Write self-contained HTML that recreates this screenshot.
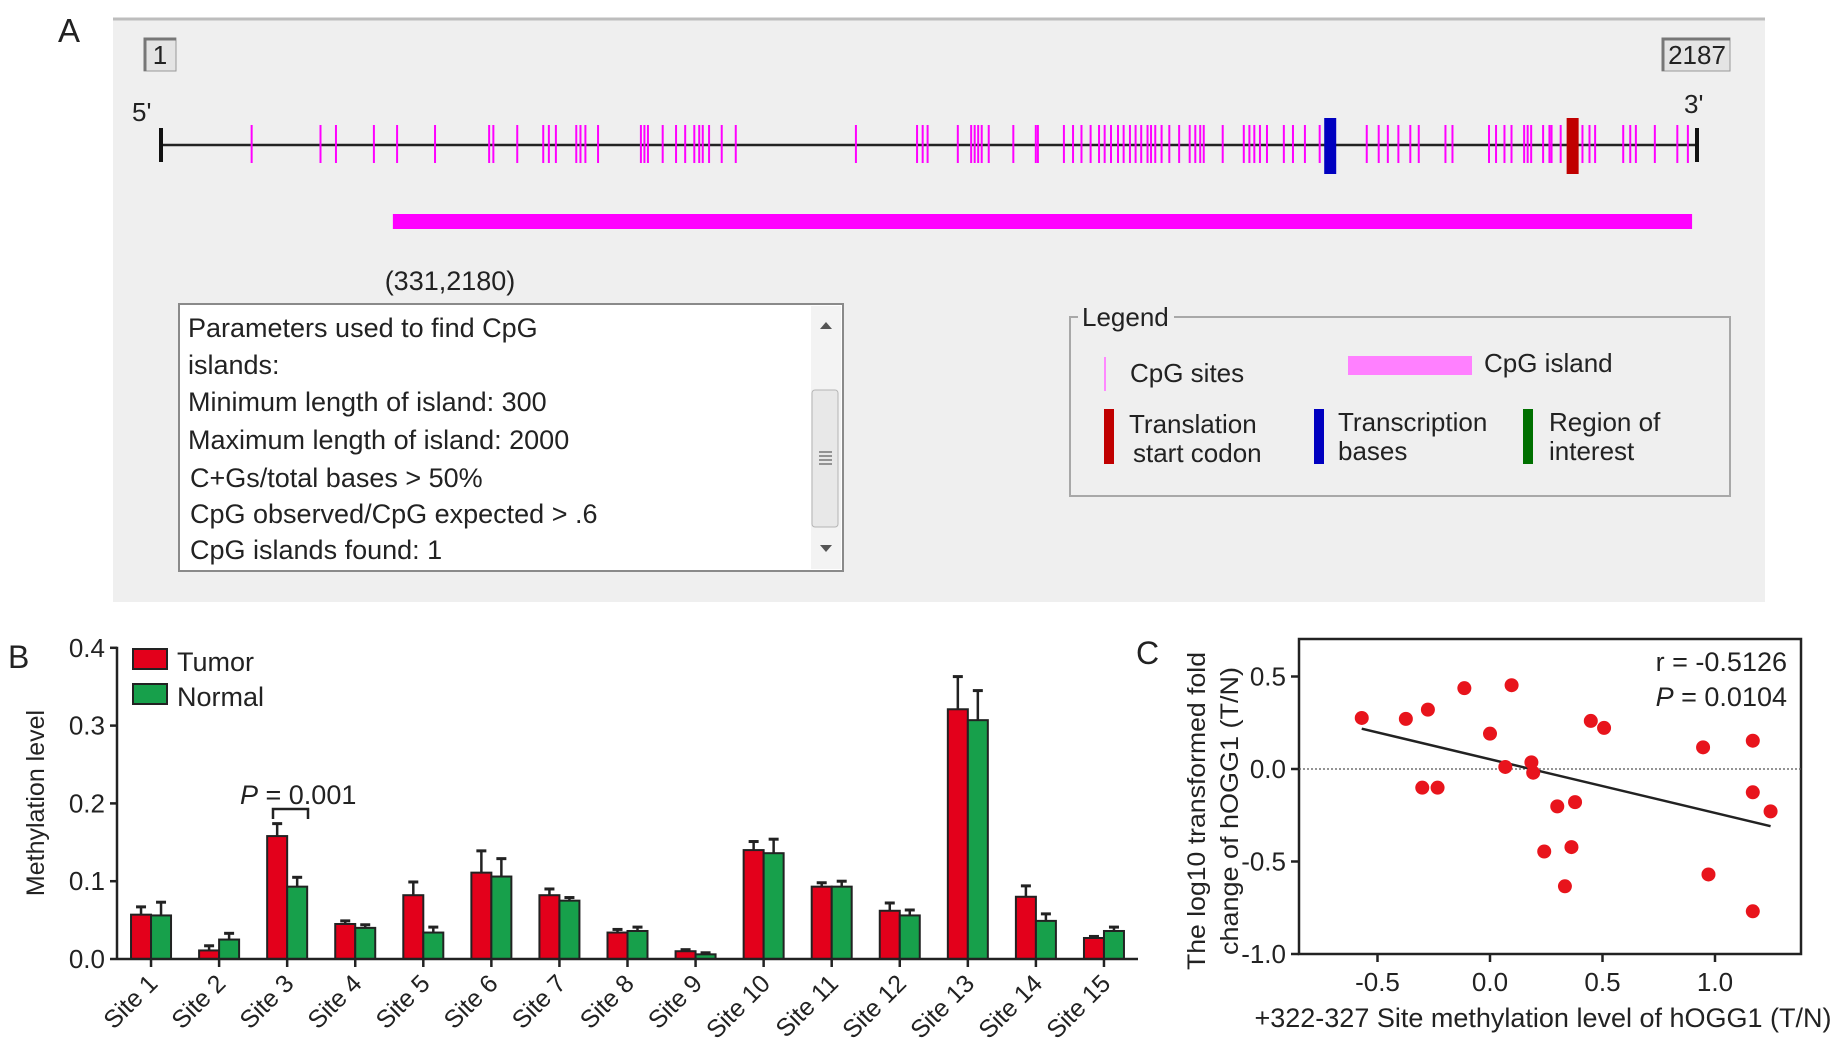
<!DOCTYPE html>
<html><head><meta charset="utf-8"><style>
html,body{margin:0;padding:0;background:#fff;}
svg{display:block;font-family:"Liberation Sans",Arial,sans-serif;}
</style></head><body>
<svg id="fig" width="1843" height="1060" viewBox="0 0 1843 1060" xmlns="http://www.w3.org/2000/svg">
<g id="panelA">
  <rect x="113" y="18" width="1652" height="584" fill="#efefef"/>
  <line x1="113" y1="19" x2="1765" y2="19" stroke="#bdbdbd" stroke-width="3"/>
  <text x="58" y="42" font-size="33" fill="#222">A</text>
  <g>
    <rect x="144" y="38" width="32" height="33" fill="#e4e4e4" stroke="#999" stroke-width="1"/>
    <path d="M145 71 V39 H176" stroke="#777" stroke-width="3" fill="none"/>
    <text x="160" y="64" font-size="26" text-anchor="middle" fill="#222">1</text>
  </g>
  <g>
    <rect x="1662" y="38" width="68" height="33" fill="#e4e4e4" stroke="#999" stroke-width="1"/>
    <path d="M1663 71 V39 H1730" stroke="#777" stroke-width="3" fill="none"/>
    <text x="1697" y="64" font-size="26" text-anchor="middle" fill="#222">2187</text>
  </g>
  <text x="132" y="121" font-size="26" fill="#222">5'</text>
  <text x="1684" y="113" font-size="26" fill="#222">3'</text>
  <g id="seqTrack"></g>
  <text x="450" y="290" font-size="27" text-anchor="middle" fill="#222">(331,2180)</text>

  <g>
    <rect x="179" y="304" width="664" height="267" fill="#fff" stroke="#8a8a8a" stroke-width="2"/>
    <rect x="811" y="306" width="30" height="263" fill="#f3f3f3"/>
    <rect x="812" y="390" width="26" height="137" fill="#e8e8e8" stroke="#b5b5b5" rx="3"/>
    <path d="M820 329 L826 322 L832 329 Z" fill="#555"/>
    <path d="M820 545 L826 552 L832 545 Z" fill="#555"/>
    <g stroke="#777" stroke-width="1.5"><line x1="819" y1="452" x2="832" y2="452"/><line x1="819" y1="456" x2="832" y2="456"/><line x1="819" y1="460" x2="832" y2="460"/><line x1="819" y1="464" x2="832" y2="464"/></g>
    <g font-size="27" fill="#222">
      <text x="188" y="337">Parameters used to find CpG</text>
      <text x="188" y="374">islands:</text>
      <text x="188" y="411">Minimum length of island: 300</text>
      <text x="188" y="449">Maximum length of island: 2000</text>
      <text x="190" y="487">C+Gs/total bases &gt; 50%</text>
      <text x="190" y="523">CpG observed/CpG expected &gt; .6</text>
      <text x="190" y="559">CpG islands found: 1</text>
    </g>
  </g>

  <g>
    <rect x="1070" y="317" width="660" height="179" fill="none" stroke="#a8a8a8" stroke-width="2"/>
    <rect x="1078" y="305" width="96" height="26" fill="#efefef"/>
    <text x="1082" y="326" font-size="26" fill="#222">Legend</text>
    <g>
      <line x1="1105" y1="357" x2="1105" y2="391" stroke="#ff88ff" stroke-width="2"/>
      <text x="1130" y="382" font-size="26" fill="#222">CpG sites</text>
    </g>
    <g>
      <rect x="1348" y="356" width="124" height="19" fill="#ff80ff"/>
      <text x="1484" y="372" font-size="26" fill="#222">CpG island</text>
    </g>
    <g>
      <rect x="1104" y="409" width="10" height="55" fill="#c00000"/>
      <text x="1129" y="433" font-size="26" fill="#222">Translation</text>
      <text x="1133" y="462" font-size="26" fill="#222">start codon</text>
    </g>
    <g>
      <rect x="1314" y="409" width="10" height="55" fill="#0000c0"/>
      <text x="1338" y="431" font-size="26" fill="#222">Transcription</text>
      <text x="1338" y="460" font-size="26" fill="#222">bases</text>
    </g>
    <g>
      <rect x="1523" y="409" width="10" height="55" fill="#007000"/>
      <text x="1549" y="431" font-size="26" fill="#222">Region of</text>
      <text x="1549" y="460" font-size="26" fill="#222">interest</text>
    </g>
  </g>
</g>

<g id="panelB">
  <text x="8" y="668" font-size="32" fill="#222">B</text>
  <text transform="translate(44,803) rotate(-90)" font-size="25" text-anchor="middle" fill="#222">Methylation level</text>
  <g id="barG"></g>
  <g>
    <g>
      <rect x="133" y="649" width="34" height="20" fill="#e3001b" stroke="#222" stroke-width="2"/>
      <text x="177" y="671" font-size="27" fill="#222">Tumor</text>
    </g>
    <g>
      <rect x="133" y="684" width="34" height="20" fill="#17a04b" stroke="#222" stroke-width="2"/>
      <text x="177" y="706" font-size="27" fill="#222">Normal</text>
    </g>
  </g>
  <g>
    <text x="240" y="804" font-size="27" fill="#222"><tspan font-style="italic">P</tspan> = 0.001</text>
    <path d="M273 819 V809 H308 V819" stroke="#222" stroke-width="2.5" fill="none"/>
  </g>
</g>

<g id="panelC">
  <text x="1136" y="664" font-size="32" fill="#222">C</text>
  <g font-size="25" fill="#222" text-anchor="middle">
    <text transform="translate(1205,811) rotate(-90)" textLength="318" lengthAdjust="spacingAndGlyphs">The log10 transformed fold</text>
    <text transform="translate(1238,811) rotate(-90)" textLength="288" lengthAdjust="spacingAndGlyphs">change of hOGG1 (T/N)</text>
  </g>
  <text x="1543" y="1027" font-size="27" text-anchor="middle" fill="#222">+322-327 Site methylation level of hOGG1 (T/N)</text>
  <g id="scatG"></g>
  <text x="1787" y="671" font-size="27" text-anchor="end" fill="#222">r = -0.5126</text>
  <text x="1787" y="706" font-size="27" text-anchor="end" fill="#222"><tspan font-style="italic">P</tspan> = 0.0104</text>
</g>
</svg>
<script>
// ---------- Panel A data ----------
const seqLength = 2187;
const cpgSites = [130,228,250,304,337,391,468,474,508,545,553,563,592,598,605,623,684,689,694,715,734,747,760,767,772,781,799,819,990,1077,1085,1092,1135,1154,1159,1164,1169,1179,1214,1246,1249,1286,1299,1311,1324,1336,1344,1353,1363,1371,1380,1388,1396,1405,1410,1416,1425,1436,1450,1465,1473,1480,1485,1512,1542,1550,1557,1565,1575,1599,1612,1629,1650,1717,1734,1747,1762,1779,1791,1829,1839,1891,1901,1913,1923,1941,1946,1951,1968,1977,1980,1993,2024,2034,2042,2082,2092,2100,2127,2159,2174];
const islandRange = [331, 2180];
const transcriptionPos = [1665];
const translationPos = [2010];

// ---------- Panel B data ----------
const sites = ["Site 1","Site 2","Site 3","Site 4","Site 5","Site 6","Site 7","Site 8","Site 9","Site 10","Site 11","Site 12","Site 13","Site 14","Site 15"];
const tumorVals = [0.057,0.011,0.158,0.045,0.082,0.111,0.082,0.034,0.010,0.140,0.093,0.062,0.321,0.080,0.027];
const tumorErr  = [0.010,0.006,0.016,0.004,0.017,0.028,0.008,0.004,0.002,0.011,0.005,0.010,0.042,0.014,0.002];
const normalVals = [0.056,0.025,0.093,0.040,0.034,0.106,0.075,0.036,0.006,0.136,0.093,0.056,0.307,0.049,0.036];
const normalErr  = [0.017,0.008,0.012,0.004,0.007,0.023,0.004,0.005,0.002,0.018,0.007,0.007,0.038,0.009,0.005];
const bTicks = [0.0,0.1,0.2,0.3,0.4];
const bTickLabels = ["0.0","0.1","0.2","0.3","0.4"];

// ---------- Panel C data ----------
const scatX = [-0.570,-0.374,-0.276,-0.301,-0.233,-0.114,0.096,0.000,0.068,0.184,0.192,0.241,0.299,0.378,0.362,0.333,0.448,0.507,0.947,0.971,1.168,1.168,1.247,1.168];
const scatY = [0.276,0.271,0.321,-0.101,-0.101,0.437,0.453,0.191,0.011,0.036,-0.020,-0.446,-0.202,-0.179,-0.422,-0.634,0.260,0.222,0.117,-0.570,0.153,-0.126,-0.229,-0.769];
const fitX = [-0.570, 1.247];
const fitY = [0.218, -0.309];
const cXTicks = [-0.5,0.0,0.5,1.0];
const cXTickLabels = ["-0.5","0.0","0.5","1.0"];
const cYTicks = [0.5,0.0,-0.5,-1.0];
const cYTickLabels = ["0.5","0.0","-0.5","-1.0"];

const NS = "http://www.w3.org/2000/svg";
function mk(tag, attrs, parent){ const e=document.createElementNS(NS,tag); for(const k in attrs) e.setAttribute(k,attrs[k]); parent.appendChild(e); return e; }

// ---- Panel A ----
(function(){
  const g = document.getElementById('seqTrack');
  const x0=161, x1=1697, yl=145;
  const xs = p => x0 + (p-1)/(seqLength-1)*(x1-x0);
  const line = mk('line',{x1:x0,y1:yl,x2:x1,y2:yl,stroke:'#222','stroke-width':2.5},g);
  
  
  [x0,x1].forEach(x=>{ const t=mk('line',{x1:x,y1:128,x2:x,y2:162,stroke:'#111','stroke-width':4},g);
    
     });
  cpgSites.forEach(p=>{ const t=mk('line',{x1:xs(p),y1:125,x2:xs(p),y2:163,stroke:'#ff00ff','stroke-width':2},g);
    
     });
  transcriptionPos.forEach(p=>{ const r=mk('rect',{x:xs(p)-6,y:118,width:12,height:56,fill:'#0000c0'},g);
    
     });
  translationPos.forEach(p=>{ const r=mk('rect',{x:xs(p)-6,y:118,width:12,height:56,fill:'#c00000'},g);
    
     });
  const isl = mk('rect',{x:xs(islandRange[0]),y:214,width:xs(islandRange[1])-xs(islandRange[0]),height:15,fill:'#ff00ff'},g);
  
  
})();

// ---- Panel B ----
(function(){
  const g = document.getElementById('barG');
  const left=117, right=1138, y0=959, ppu=778;
  const ys = v => y0 - v*ppu;
  const band = (right-left)/sites.length;
  const cx = i => left + band*(i+0.5);
  const bw = 20;
  bTicks.forEach((t,i)=>{
    const tk=mk('line',{x1:left-7,y1:ys(t),x2:left,y2:ys(t),stroke:'#222','stroke-width':2.5},g);
    
    
    const lb=mk('text',{x:left-12,y:ys(t)+9,'font-size':26,'text-anchor':'end',fill:'#222'},g);
    lb.textContent=bTickLabels[i];
    
    
  });
  function bar(i,val,err,xl,color,name){
    const x=xl, w=bw, yt=ys(val), ye=ys(val+err), xm=x+w/2;
    const eb=mk('line',{x1:xm,y1:yt,x2:xm,y2:ye,stroke:'#222','stroke-width':2.5},g);
    
    
    const cap=mk('line',{x1:xm-5,y1:ye,x2:xm+5,y2:ye,stroke:'#222','stroke-width':3},g);
    
    
    const r=mk('rect',{x:x,y:yt,width:w,height:y0-yt,fill:color,stroke:'#222','stroke-width':2},g);
    
    
  }
  sites.forEach((s,i)=>{
    bar(i,tumorVals[i],tumorErr[i],cx(i)-bw,'#e3001b','tumor');
    bar(i,normalVals[i],normalErr[i],cx(i),'#17a04b','normal');
    const tk=mk('line',{x1:cx(i),y1:y0,x2:cx(i),y2:y0+8,stroke:'#222','stroke-width':2.5},g);
    
    
    const lb=mk('text',{transform:`translate(${cx(i)+8},${y0+26}) rotate(-45)`,'font-size':25,'text-anchor':'end',fill:'#222'},g);
    lb.textContent=s;
    
    
  });
  const ya=mk('line',{x1:left,y1:ys(0.4)-1,x2:left,y2:y0,stroke:'#222','stroke-width':2.5},g);
  
  
  const xa=mk('line',{x1:left,y1:y0,x2:right,y2:y0,stroke:'#222','stroke-width':2.5},g);
  
  
})();

// ---- Panel C ----
(function(){
  const g=document.getElementById('scatG');
  const L=1299,R=1801,T=639,B=954;
  const xs=v=>1490+v*225, ys=v=>769-v*185;
  const frame=mk('rect',{x:L,y:T,width:R-L,height:B-T,fill:'none',stroke:'#222','stroke-width':2.5},g);
  
  
  const zl=mk('line',{x1:L,y1:ys(0),x2:R,y2:ys(0),stroke:'#555','stroke-width':1.2,'stroke-dasharray':'2,2'},g);
  
  
  cYTicks.forEach((t,i)=>{
    const tk=mk('line',{x1:L-8,y1:ys(t),x2:L,y2:ys(t),stroke:'#222','stroke-width':2.5},g);
    
    
    const lb=mk('text',{x:L-13,y:ys(t)+9,'font-size':26,'text-anchor':'end',fill:'#222'},g);
    lb.textContent=cYTickLabels[i];
    
    
  });
  cXTicks.forEach((t,i)=>{
    const tk=mk('line',{x1:xs(t),y1:B,x2:xs(t),y2:B+8,stroke:'#222','stroke-width':2.5},g);
    
    
    const lb=mk('text',{x:xs(t),y:B+37,'font-size':26,'text-anchor':'middle',fill:'#222'},g);
    lb.textContent=cXTickLabels[i];
    
    
  });
  const fl=mk('line',{x1:xs(fitX[0]),y1:ys(fitY[0]),x2:xs(fitX[1]),y2:ys(fitY[1]),stroke:'#222','stroke-width':2.5},g);
  
  
  scatX.forEach((x,i)=>{
    const c=mk('circle',{cx:xs(x),cy:ys(scatY[i]),r:7,fill:'#e8141c'},g);
    
    
  });
})();
</script>
</body></html>
